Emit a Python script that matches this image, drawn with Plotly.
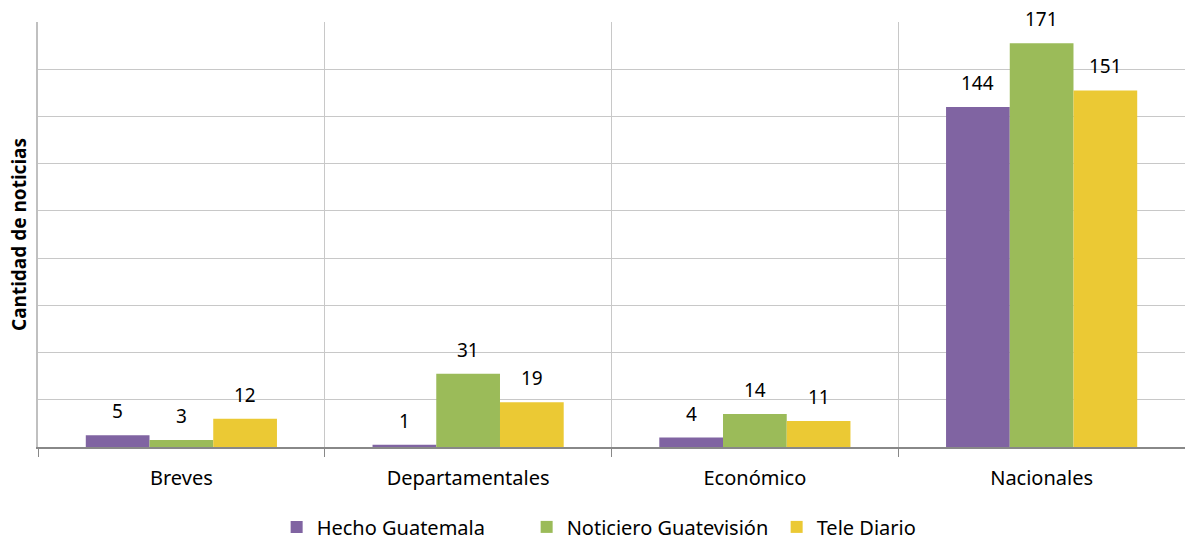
import plotly.graph_objects as go

categories = ["Breves", "Departamentales", "Económico", "Nacionales"]
series_names = ["Hecho Guatemala", "Noticiero Guatevisión", "Tele Diario"]
hecho = [5, 1, 4, 144]
noticiero = [3, 31, 14, 171]
tele = [12, 19, 11, 151]
colors = ["#8064A2", "#9BBB59", "#EBC934"]

series_values = [hecho, noticiero, tele]
FONT = "Noto Sans"

fig = go.Figure()
for name, vals, col in zip(series_names, series_values, colors):
    fig.add_trace(go.Bar(name=name, x=categories, y=vals, marker_color=col,
                         marker_line_width=0))

bargap = 1/3
bw = (1 - bargap) / len(series_names)
annotations = []
for i, vals in enumerate(series_values):
    for j, v in enumerate(vals):
        annotations.append(dict(x=j + (i - 1) * bw, y=v, xref="x", yref="y",
                                text=str(v), showarrow=False, yanchor="middle",
                                yshift=24, font=dict(family=FONT, size=19, color="#000")))

fig.update_layout(
    width=1185, height=542,
    margin=dict(l=38, r=0, t=22, b=95, autoexpand=False),
    plot_bgcolor="white", paper_bgcolor="white",
    barmode="group", bargap=bargap, bargroupgap=0,
    font=dict(family=FONT, size=20, color="#000"),
    annotations=annotations,
    legend=dict(orientation="h", x=0.535, xanchor="center",
                y=-0.188, yanchor="middle", font=dict(family=FONT, size=20),
                traceorder="normal", entrywidth=205, entrywidthmode="pixels"),
    xaxis=dict(type="category", tickson="boundaries", showgrid=True,
               gridcolor="#C8C8C8", gridwidth=1.3, ticks="outside", ticklen=8,
               tickcolor="#888", showline=True, linecolor="#888", linewidth=2,
               tickangle=0, ticklabelstandoff=12,
               tickfont=dict(family=FONT, size=20), automargin=False),
    yaxis=dict(range=[0, 180], dtick=20, showticklabels=False, showgrid=True,
               gridcolor="#C8C8C8", gridwidth=1.3, showline=True, linecolor="#C0C0C0",
               linewidth=1.5, zeroline=False, automargin=False,
               title=dict(text="<b>Cantidad de noticias</b>", standoff=5,
                          font=dict(family=FONT, size=19))),
)

fig.write_html("out.html", config={"displayModeBar": False},
               post_script="document.body.style.margin='0';")
